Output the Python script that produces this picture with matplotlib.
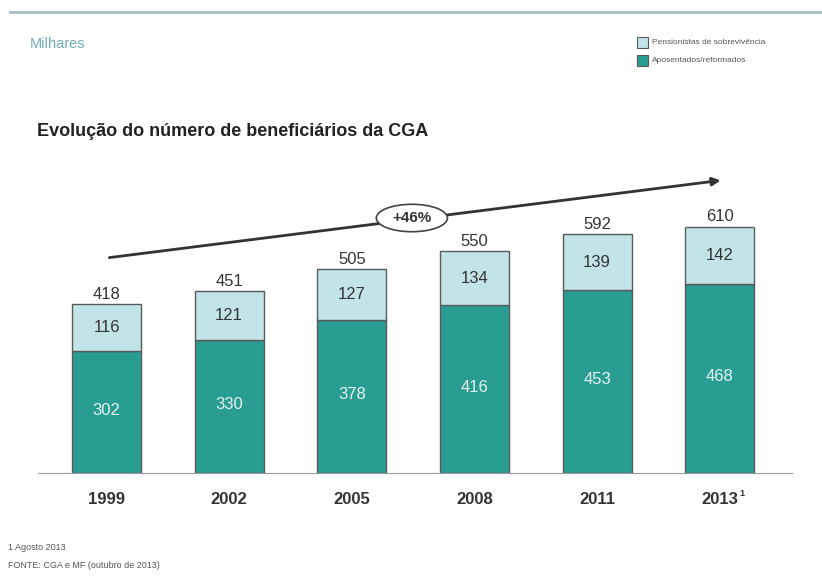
import matplotlib
matplotlib.use('Agg')
import matplotlib.pyplot as plt
from matplotlib.patches import Ellipse
import numpy as np

plt.rcParams['font.family'] = ['Liberation Sans', 'DejaVu Sans']

# data (milhares)
years = ['1999', '2002', '2005', '2008', '2011', '2013']
aposentados = [302, 330, 378, 416, 453, 468]
pensionistas = [116, 121, 127, 134, 139, 142]
totais = [418, 451, 505, 550, 592, 610]

dark = '#2a9d92'
light = '#c2e4e9'
edge = '#5a5a5a'

W, H = 822, 582
fig = plt.figure(figsize=(W / 100, H / 100), dpi=100)
# axes placed in pixel terms: baseline at y=473, x from 38 to 792
ax = fig.add_axes([38 / W, (H - 473) / H, (792 - 38) / W, 302.6 / H])
x = np.arange(len(years))
bw = 0.563

ax.bar(x, aposentados, bw, color=dark, edgecolor=edge, linewidth=1)
ax.bar(x, pensionistas, bw, bottom=aposentados, color=light, edgecolor=edge, linewidth=1)

for i in range(len(years)):
    ax.text(x[i], aposentados[i] / 2 + 5, str(aposentados[i]), ha='center', va='center',
            fontsize=12, color='#e6f4f2')
    ax.text(x[i], aposentados[i] + pensionistas[i] / 2, str(pensionistas[i]), ha='center',
            va='center', fontsize=12, color='#333333')
    ax.text(x[i], totais[i] + 6, str(totais[i]), ha='center', va='bottom',
            fontsize=12, color='#333333')

ax.set_xlim(-0.559, 5.59)
ax.set_ylim(0, 750)
ax.set_xticks(x)
ax.set_xticklabels(years, fontsize=12, fontweight='bold', color='#333333')
ax.tick_params(axis='x', length=0, pad=14)
ax.set_yticks([])
for s in ['top', 'right', 'left']:
    ax.spines[s].set_visible(False)
ax.spines['bottom'].set_color('#999999')
# small footnote marker on the last year
fig.text(739 / W, 1 - 494 / H, '1', fontsize=6.5, fontweight='bold', color='#333333', va='center')

# growth arrow
ax.annotate('', xy=(5.03, 726), xytext=(0, 533),
            arrowprops=dict(arrowstyle='-|>', color='#333333', lw=2, mutation_scale=12))
ax.add_patch(Ellipse((2.49, 632), 0.58, 68, facecolor='white', edgecolor='#444444', lw=1.2, zorder=5))
ax.text(2.49, 632, '+46%', ha='center', va='center', fontsize=11, fontweight='bold',
        color='#333333', zorder=6)

# header stuff
fig.add_artist(plt.Line2D([10 / W, 1], [1 - 12 / H, 1 - 12 / H], color='#a9bfc2', lw=2))
fig.text(30 / W, 1 - 44 / H, 'Milhares', fontsize=10.5, color='#6fb0b8', va='center')
fig.text(37 / W, 1 - 131 / H, 'Evolução do número de beneficiários da CGA', fontsize=13,
         fontweight='bold', color='#222222', va='center')

# legend
for yy, col, lab in [(42, light, 'Pensionistas de sobrevivência'), (60, dark, 'Aposentados/reformados')]:
    fig.add_artist(plt.Rectangle((637 / W, 1 - (yy + 6) / H), 11 / W, 11 / H,
                                 facecolor=col, edgecolor=edge, lw=0.8))
    fig.text(652 / W, 1 - yy / H, lab, fontsize=6, color='#555555', va='center')

fig.text(8 / W, 1 - 548 / H, '1 Agosto 2013', fontsize=6.5, color='#555555', va='center')
fig.text(8 / W, 1 - 566 / H, 'FONTE: CGA e MF (outubro de 2013)', fontsize=6.5, color='#555555',
         va='center')

fig.savefig('out.png', dpi=100, facecolor='white')
